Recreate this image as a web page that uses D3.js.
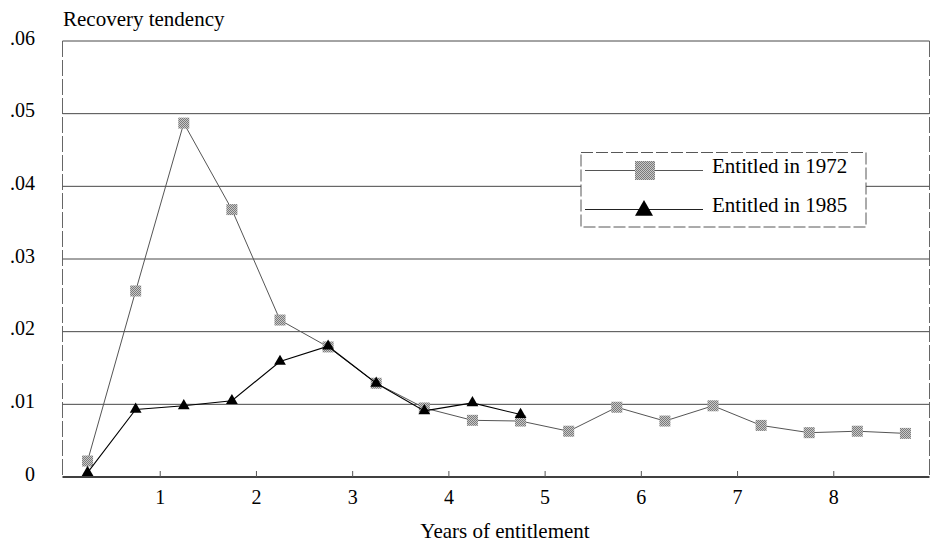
<!DOCTYPE html>
<html><head><meta charset="utf-8">
<script src="https://cdn.jsdelivr.net/npm/d3@7"></script>
<style>
html,body{margin:0;padding:0;background:#fff;}
svg{display:block;font-family:"Liberation Serif","Times New Roman",serif;}
svg text{font-family:"Liberation Serif","Times New Roman",serif;}
</style></head>
<body><svg id="c" width="934" height="544"></svg>
<script>
const years = [0.25,0.75,1.25,1.75,2.25,2.75,3.25,3.75,4.25,4.75,5.25,5.75,6.25,6.75,7.25,7.75,8.25,8.75];
const entitled1972 = [0.0022,0.0256,0.0487,0.0368,0.0216,0.0179,0.0129,0.0095,0.0078,0.0077,0.0063,0.0096,0.0077,0.0098,0.0071,0.0061,0.0063,0.0060];
const entitled1985 = [0.0006,0.0093,0.0098,0.0105,0.0159,0.0180,0.0129,0.0091,0.0102,0.0086];
const xTicks = [1,2,3,4,5,6,7,8];
const yTicks = [0,0.01,0.02,0.03,0.04,0.05,0.06];
const yTickLabels = ["0",".01",".02",".03",".04",".05",".06"];
const seriesNames = ["Entitled in 1972","Entitled in 1985"];

const svg = d3.select("#c");
const L = 62.5, R = 929.5, T = 41, B = 477;
const x = d3.scaleLinear().domain([0,9]).range([63.5, 929.5]);
const y = d3.scaleLinear().domain([0,0.06]).range([B, T]);

const defs = svg.append("defs");
const pat = defs.append("pattern").attr("id","stip").attr("width",2).attr("height",2).attr("patternUnits","userSpaceOnUse");
pat.append("rect").attr("width",2).attr("height",2).attr("fill","#c8c8c8");
pat.append("rect").attr("width",1).attr("height",1).attr("fill","#7a7a7a");
pat.append("rect").attr("x",1).attr("y",1).attr("width",1).attr("height",1).attr("fill","#7a7a7a");

// gridlines
svg.append("g").selectAll("line").data(yTicks.slice(1)).join("line")
  .attr("x1",L).attr("x2",R).attr("y1",d=>y(d)).attr("y2",d=>y(d))
  .attr("stroke","#333").attr("stroke-width",0.9);
// frame sides
svg.append("line").attr("x1",L).attr("x2",L).attr("y1",T).attr("y2",B).attr("stroke","#555").attr("stroke-width",0.9).attr("stroke-dasharray","16,3");
svg.append("line").attr("x1",R).attr("x2",R).attr("y1",T).attr("y2",B).attr("stroke","#555").attr("stroke-width",0.9).attr("stroke-dasharray","16,3");

// y axis labels
const yAxis = d3.axisLeft(y).tickValues(yTicks).tickSize(0).tickPadding(0)
  .tickFormat((d,i)=>yTickLabels[i]);
const gy = svg.append("g").attr("transform","translate(35,0)").call(yAxis);
gy.attr("font-family",null);
gy.select(".domain").remove();
gy.selectAll("text").attr("font-size",20).attr("fill","#000").attr("dy","0.15em");

// x axis
const xAxis = d3.axisBottom(x).tickValues(xTicks).tickSize(-6).tickPadding(13).tickFormat(d3.format("d"));
const gx = svg.append("g").attr("transform",`translate(0,${B})`).call(xAxis);
gx.attr("font-family",null);
gx.select(".domain").attr("d",`M${L},0H${R}`).attr("stroke","#000").attr("stroke-width",1.6);
gx.selectAll(".tick line").attr("stroke","#555");
gx.selectAll("text").attr("font-size",20).attr("fill","#000");

// titles
svg.append("text").attr("x",63).attr("y",26).attr("font-size",21).text("Recovery tendency");
svg.append("text").attr("x",505).attr("y",538).attr("text-anchor","middle").attr("font-size",21).text("Years of entitlement");

// series
const line = d3.line().x(d=>x(d[0])).y(d=>y(d[1]));
const d72 = years.map((v,i)=>[v,entitled1972[i]]);
const d85 = years.slice(0,entitled1985.length).map((v,i)=>[v,entitled1985[i]]);
svg.append("path").attr("d",line(d72)).attr("fill","none").attr("stroke","#555").attr("stroke-width",1);
svg.append("g").selectAll("rect").data(d72).join("rect")
  .attr("x",d=>x(d[0])-5.5).attr("y",d=>y(d[1])-5.5).attr("width",11).attr("height",11)
  .attr("fill","url(#stip)");
svg.append("path").attr("d",line(d85)).attr("fill","none").attr("stroke","#000").attr("stroke-width",1.1);
const tri = d3.symbol().type(d3.symbolTriangle).size(60);
svg.append("g").selectAll("path").data(d85).join("path")
  .attr("d",tri).attr("transform",d=>`translate(${x(d[0])},${y(d[1])})`).attr("fill","#000");

// legend
const lg = svg.append("g");
lg.append("rect").attr("x",581).attr("y",152.5).attr("width",285).attr("height",74.5)
  .attr("fill","#fff").attr("stroke","#444").attr("stroke-width",0.9).attr("stroke-dasharray","12,3");
const ly = [170.5, 209.5];
seriesNames.forEach((n,i)=>{
  lg.append("line").attr("x1",585).attr("x2",703).attr("y1",ly[i]).attr("y2",ly[i]).attr("stroke",i===0?"#555":"#222").attr("stroke-width",1);
  if(i===0){
    lg.append("rect").attr("x",635).attr("y",ly[i]-9.5).attr("width",20).attr("height",19).attr("fill","url(#stip)");
  } else {
    lg.append("path").attr("d",d3.symbol().type(d3.symbolTriangle).size(140)).attr("transform",`translate(644,${ly[i]+1})`).attr("fill","#000");
  }
  lg.append("text").attr("x",712).attr("y",ly[i]+2).attr("font-size",21).text(n);
});
</script></body></html>
